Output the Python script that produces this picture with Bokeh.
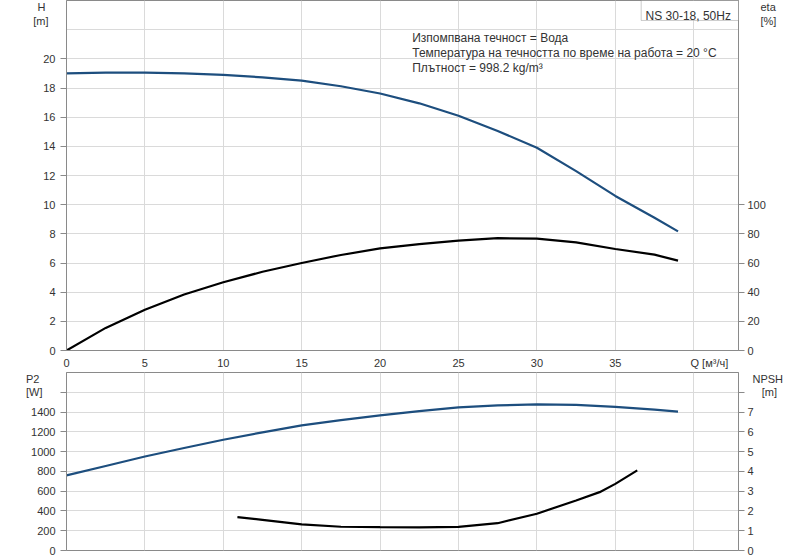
from bokeh.plotting import figure
from bokeh.layouts import column
from bokeh.models import Range1d, LinearAxis, FixedTicker, Label, BoxAnnotation
from bokeh.embed import file_html
from bokeh.resources import INLINE

# ---- data ----
q_main = [0, 2.5, 5, 7.5, 10, 12.5, 15, 17.5, 20, 22.5, 25, 27.5, 30, 32.5, 35, 37.5, 39]
head_m = [19.0, 19.05, 19.05, 19.0, 18.9, 18.73, 18.5, 18.12, 17.62, 16.95, 16.1, 15.05, 13.9, 12.3, 10.6, 9.1, 8.17]
eta_pct = [0, 15.5, 28, 38.4, 46.8, 54, 60, 65.5, 70, 73, 75.3, 77, 76.7, 74.2, 69.6, 65.7, 61.6]
p2_w = [759, 855, 951, 1037, 1120, 1195, 1265, 1318, 1366, 1410, 1447, 1468, 1477, 1472, 1452, 1425, 1405]
q_npsh = [10.9, 12.5, 15, 17.5, 20, 22.5, 25, 27.5, 30, 32.5, 34, 35, 36.4]
npsh_m = [1.69, 1.55, 1.32, 1.2, 1.18, 1.17, 1.19, 1.38, 1.86, 2.53, 2.95, 3.37, 4.05]

x_ticks = [0, 5, 10, 15, 20, 25, 30, 35]
x_grid = [0, 5, 10, 15, 20, 25, 30, 35, 40]
h_ticks = [0, 2, 4, 6, 8, 10, 12, 14, 16, 18, 20]
h_grid = [0, 2, 4, 6, 8, 10, 12, 14, 16, 18, 20, 22]
eta_ticks = [0, 20, 40, 60, 80, 100]
p2_ticks = [0, 200, 400, 600, 800, 1000, 1200, 1400, 1600]
npsh_ticks = [0, 1, 2, 3, 4, 5, 6, 7, 8]

info_lines = ["Изпомпвана течност = Вода",
              "Температура на течността по време на работа = 20 °C",
              "Плътност = 998.2 kg/m³"]
box_text = "NS 30-18, 50Hz"
q_title = "Q [м³/ч]"
NB = "\u00a0"

FONT = "Liberation Sans"
BLUE = "#1d4e7e"
AXC = "#8a8a8a"
GRID = "#dadada"
TXT = "#333333"
XMAX = 42.857


def style_axis(ax, standoff=3):
    ax.axis_line_color = AXC
    ax.major_tick_line_color = AXC
    ax.minor_tick_line_color = None
    ax.major_tick_out = 6
    ax.major_tick_in = 0
    ax.major_label_standoff = standoff
    ax.major_label_text_font = FONT
    ax.major_label_text_font_size = "11px"
    ax.major_label_text_color = TXT


def title_axis(p, side, pos, texts, standoff, range_name="default"):
    """Axis carrying only text labels (unit titles) outside the frame."""
    ax = LinearAxis(y_range_name=range_name, ticker=FixedTicker(ticks=pos),
                    major_label_overrides=dict(zip(pos, texts)))
    style_axis(ax)
    ax.axis_line_color = None
    ax.major_tick_line_color = None
    ax.major_tick_out = 0
    ax.major_label_standoff = standoff
    p.add_layout(ax, side)
    return ax


def lab(p, x, y, t, align="left", size="12px"):
    p.add_layout(Label(x=x, y=y, text=t, text_align=align, text_baseline="alphabetic",
                       text_font=FONT, text_font_size=size, text_color=TXT))


# ---- top panel: H and eta ----
p1 = figure(width=800, height=372, x_range=Range1d(0, XMAX), y_range=Range1d(0, 24),
            output_backend="svg", toolbar_location=None,
            min_border_left=66, min_border_right=62, min_border_top=0, min_border_bottom=22)
p1.outline_line_color = AXC
p1.extra_y_ranges = {"eta": Range1d(0, 240)}
p1.xaxis.ticker = FixedTicker(ticks=x_ticks + [41.0])
p1.xaxis.major_label_overrides = {41.0: q_title}
p1.yaxis.ticker = FixedTicker(ticks=h_ticks)
p1.xgrid.ticker = FixedTicker(ticks=x_grid)
p1.ygrid.ticker = FixedTicker(ticks=h_grid)
p1.grid.grid_line_color = GRID
ax_eta = LinearAxis(y_range_name="eta", ticker=FixedTicker(ticks=eta_ticks))
p1.add_layout(ax_eta, "right")
style_axis(p1.xaxis[0])
style_axis(p1.yaxis[0], 5)
style_axis(ax_eta, 3)
p1.xaxis.major_tick_out = 0
p1.xaxis.major_label_standoff = 6

title_axis(p1, "left", [23.56, 22.57], ["H" + NB, "[m]"], -8)
title_axis(p1, "right", [235.6, 225.7], ["eta", "[%]"], -8, "eta")

p1.line(q_main, head_m, line_color=BLUE, line_width=2.2)
p1.line(q_main, eta_pct, y_range_name="eta", line_color="black", line_width=2.2)

for i, t in enumerate(info_lines):
    lab(p1, 22.05, 21.44 - i * 1.03, t)
p1.add_layout(BoxAnnotation(left=36.65, right=XMAX, top=24, bottom=22.63,
                            fill_color="white", fill_alpha=1, line_color="#555555", line_width=1))
lab(p1, 36.93, 22.95, box_text)

# ---- bottom panel: P2 and NPSH ----
p2 = figure(width=800, height=188, x_range=p1.x_range, y_range=Range1d(0, 1800),
            output_backend="svg", toolbar_location=None,
            min_border_left=66, min_border_right=62, min_border_top=0, min_border_bottom=10)
p2.outline_line_color = AXC
p2.extra_y_ranges = {"npsh": Range1d(0, 9)}
p2.xaxis.visible = False
p2.xgrid.ticker = FixedTicker(ticks=x_grid)
p2.yaxis.ticker = FixedTicker(ticks=p2_ticks)
p2.yaxis.major_label_overrides = {1600: ""}
p2.ygrid.ticker = FixedTicker(ticks=p2_ticks)
p2.grid.grid_line_color = GRID
ax_npsh = LinearAxis(y_range_name="npsh", ticker=FixedTicker(ticks=npsh_ticks),
                     major_label_overrides={8: ""})
p2.add_layout(ax_npsh, "right")
style_axis(p2.yaxis[0], 5)
style_axis(ax_npsh, 3)

title_axis(p2, "left", [1746, 1599], ["P2" + NB, "[W]"], -14)
title_axis(p2, "right", [8.73, 8.0], ["NPSH", NB * 3 + "[m]"], -4, "npsh")

p2.line(q_main, p2_w, line_color=BLUE, line_width=2.2)
p2.line(q_npsh, npsh_m, y_range_name="npsh", line_color="black", line_width=2.2)

layout = column(p1, p2, spacing=0)
open("out.html", "w").write(file_html(layout, INLINE))
